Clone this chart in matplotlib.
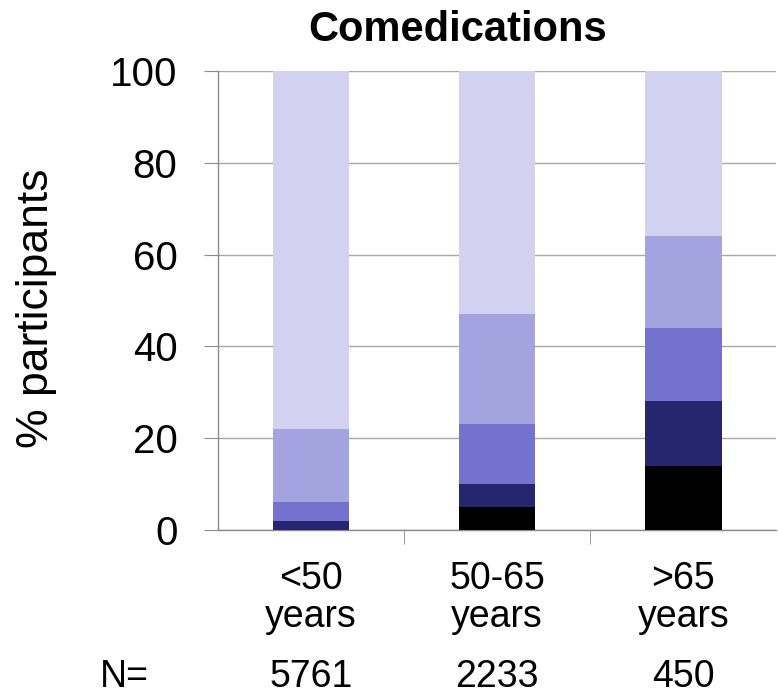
import matplotlib
matplotlib.use("Agg")
import matplotlib.pyplot as plt
import numpy as np

plt.rcParams['font.family'] = ['Liberation Sans', 'DejaVu Sans']

categories = ["<50\nyears", "50-65\nyears", ">65\nyears"]
n_labels = ["5761", "2233", "450"]
# stacked segment heights (% participants), bottom to top
seg_black = [0.0, 5.0, 14.0]
seg_navy = [2.0, 5.0, 14.0]
seg_blue = [4.0, 13.0, 16.0]
seg_light = [16.0, 24.0, 20.0]
seg_pale = [78.0, 53.0, 36.0]

segments = [seg_black, seg_navy, seg_blue, seg_light, seg_pale]
colors = ["#000000", "#26266E", "#7373CF", "#A3A3DF", "#D2D2F0"]

fig = plt.figure(figsize=(7.78, 6.94), dpi=100)
ax = fig.add_axes([0.280, 0.2363, 0.718, 0.6614])

x = np.arange(len(categories))
bottom = np.zeros(len(categories))
for seg, col in zip(segments, colors):
    ax.bar(x, seg, bottom=bottom, width=0.41, color=col, zorder=3, linewidth=0)
    bottom += np.array(seg)

ax.set_xlim(-0.5, 2.5)
ax.set_ylim(0, 100)
ax.set_yticks([0, 20, 40, 60, 80, 100])
ax.yaxis.grid(True, color="#A8A8A8", linewidth=1.0, zorder=0)
ax.set_axisbelow(True)

for s in ["top", "right"]:
    ax.spines[s].set_visible(False)
for s in ["left", "bottom"]:
    ax.spines[s].set_color("#8C8C8C")
    ax.spines[s].set_linewidth(1.0)

ax.tick_params(axis="y", direction="out", length=10, color="#8C8C8C",
               labelsize=29, pad=19, labelcolor="black")
ax.set_xticks(x)
ax.set_xticklabels(categories, fontsize=27, linespacing=1.1)
ax.set_xticks([0.5, 1.5], minor=True)
ax.tick_params(axis="x", which="major", length=0, pad=22)
ax.tick_params(axis="x", which="minor", length=10, color="#8C8C8C")

fig.text(37 / 778, 0.556, "% participants", rotation=90, ha="center",
         va="center", fontsize=32)
fig.text(458 / 778, 0.941, "Comedications", ha="center", va="baseline",
         fontsize=30, fontweight="bold")

# N row
trans = matplotlib.transforms.blended_transform_factory(ax.transData, fig.transFigure)
ax.text(-1.0, 0.01, "N=", transform=trans, ha="center", va="baseline", fontsize=27)
for xi, nl in zip(x, n_labels):
    ax.text(xi, 0.01, nl, transform=trans, ha="center", va="baseline", fontsize=27)

fig.savefig("out.png", dpi=100)
